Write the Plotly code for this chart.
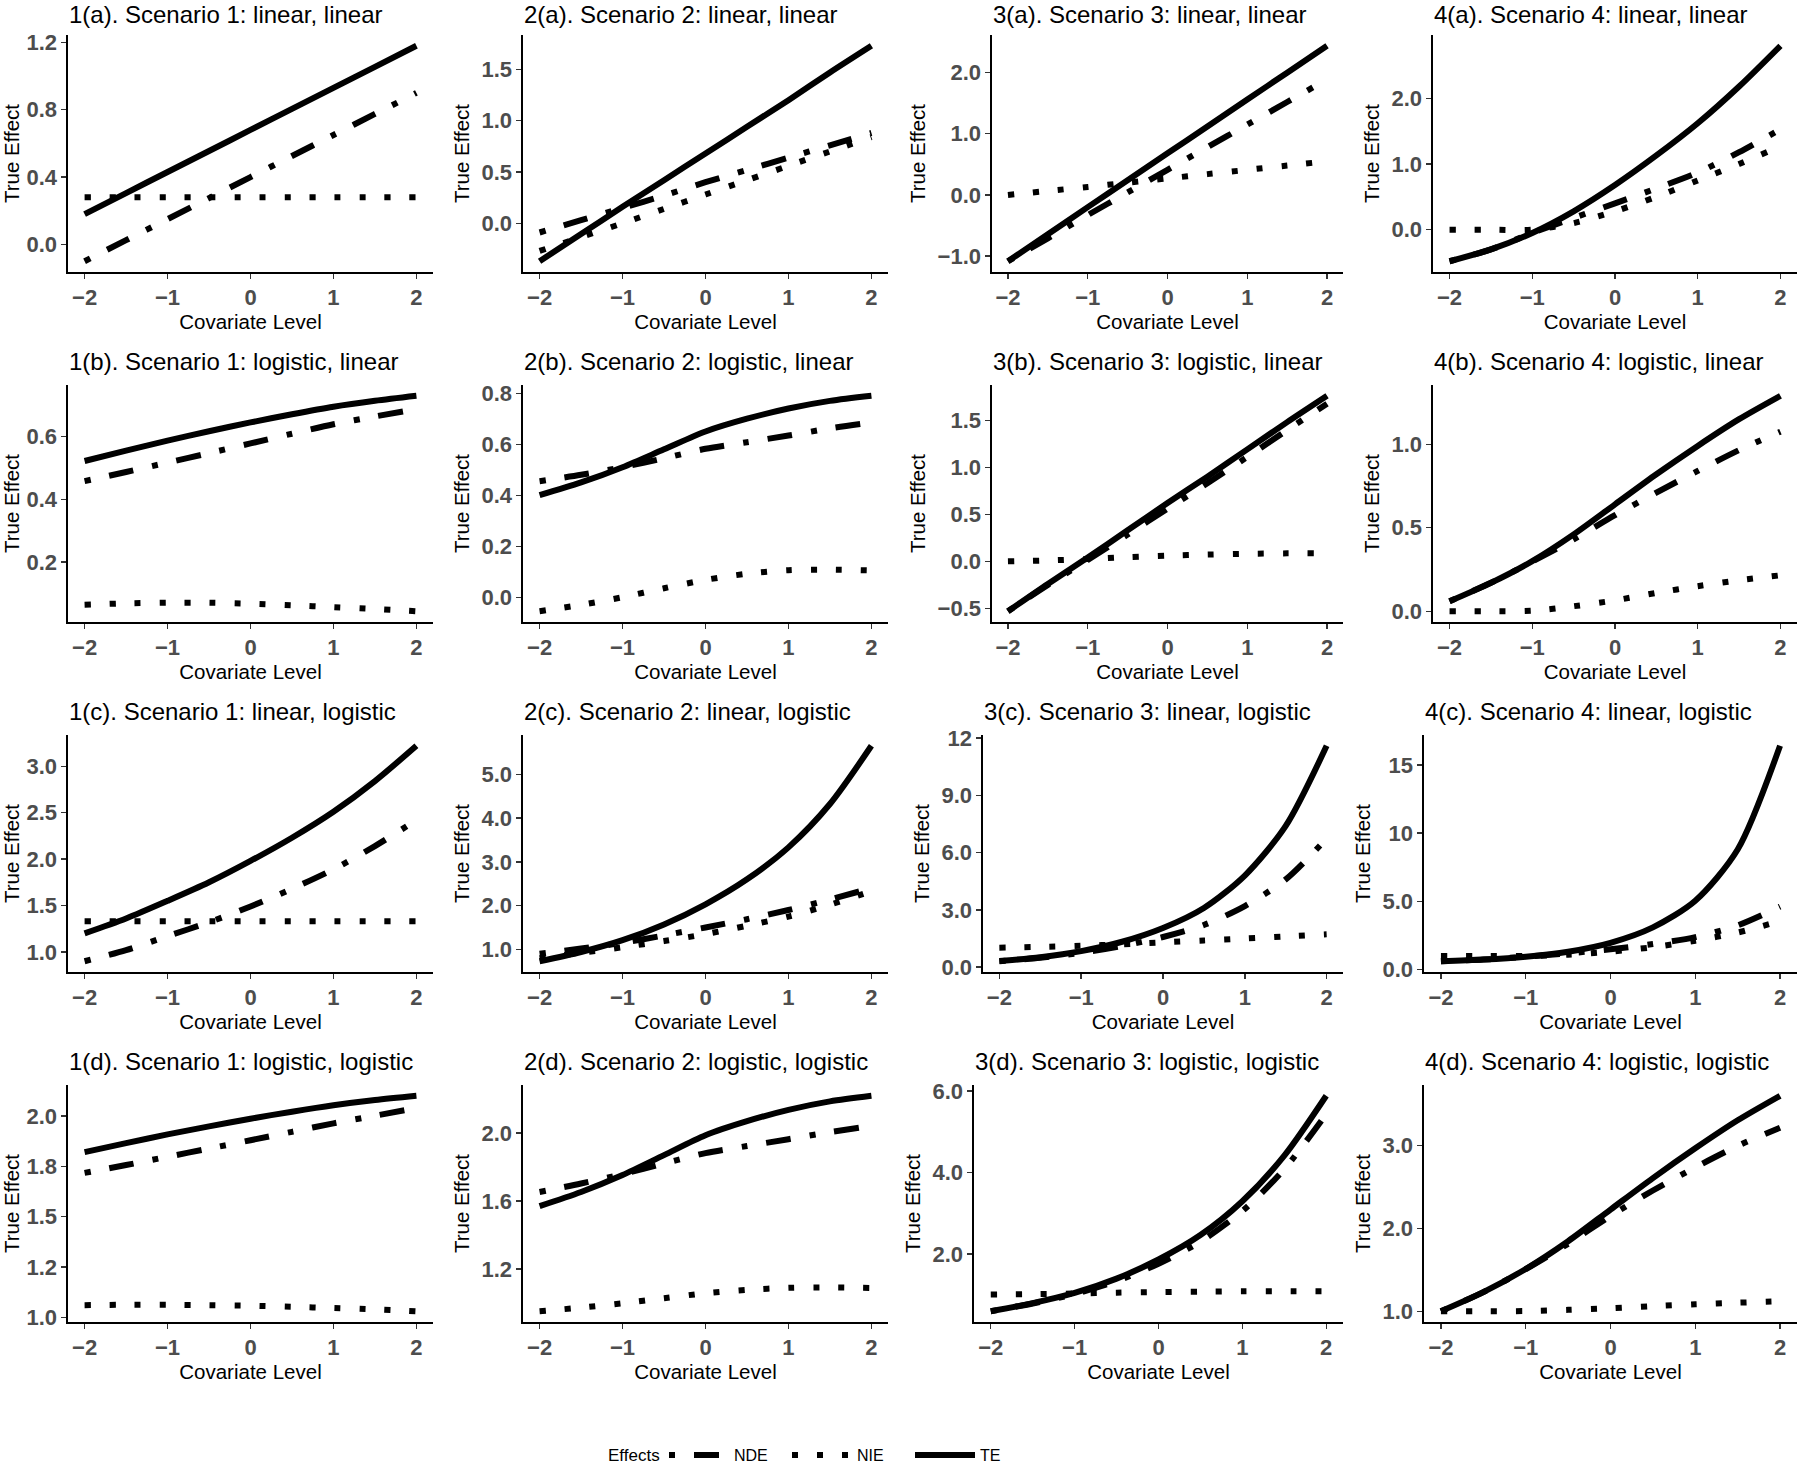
import plotly.graph_objects as go

# ---------------- data ----------------
COVARIATE = [-2.0, -1.5, -1.0, -0.5, 0.0, 0.5, 1.0, 1.5, 2.0]
X_TICKS = [-2, -1, 0, 1, 2]
X_TICK_TEXT = ["\u22122", "\u22121", "0", "1", "2"]

# Scenario 1
NDE_1a = [-0.10, 0.025, 0.15, 0.275, 0.40, 0.525, 0.65, 0.775, 0.90]
NIE_1a = [0.28, 0.28, 0.28, 0.28, 0.28, 0.28, 0.28, 0.28, 0.28]
TE_1a = [0.18, 0.305, 0.43, 0.555, 0.68, 0.805, 0.93, 1.055, 1.18]

NDE_1b = [0.458, 0.487, 0.517, 0.547, 0.578, 0.609, 0.639, 0.664, 0.687]
NIE_1b = [0.064, 0.068, 0.070, 0.070, 0.067, 0.062, 0.056, 0.050, 0.043]
TE_1b = [0.522, 0.555, 0.587, 0.617, 0.645, 0.671, 0.695, 0.714, 0.730]

NDE_1c = [0.90, 1.02, 1.17, 1.32, 1.49, 1.68, 1.89, 2.14, 2.42]
NIE_1c = [1.33, 1.33, 1.33, 1.33, 1.33, 1.33, 1.33, 1.33, 1.33]
TE_1c = [1.20, 1.36, 1.55, 1.75, 1.98, 2.23, 2.51, 2.84, 3.22]

NDE_1d = [1.717, 1.756, 1.797, 1.838, 1.879, 1.921, 1.963, 2.001, 2.039]
NIE_1d = [1.060, 1.062, 1.062, 1.060, 1.057, 1.052, 1.046, 1.039, 1.030]
TE_1d = [1.820, 1.865, 1.908, 1.948, 1.986, 2.021, 2.053, 2.079, 2.100]

# Scenario 2
NDE_2a = [-0.09, 0.03, 0.15, 0.27, 0.40, 0.52, 0.64, 0.76, 0.88]
NIE_2a = [-0.27, -0.135, 0.0, 0.14, 0.28, 0.42, 0.56, 0.70, 0.84]
TE_2a = [-0.37, -0.105, 0.16, 0.42, 0.68, 0.94, 1.20, 1.47, 1.73]

NDE_2b = [0.455, 0.480, 0.510, 0.545, 0.582, 0.608, 0.634, 0.662, 0.685]
NIE_2b = [-0.055, -0.030, 0.0, 0.035, 0.068, 0.092, 0.106, 0.108, 0.105]
TE_2b = [0.40, 0.45, 0.51, 0.58, 0.65, 0.70, 0.74, 0.77, 0.79]

NDE_2c = [0.90, 1.02, 1.15, 1.32, 1.50, 1.69, 1.90, 2.14, 2.40]
NIE_2c = [0.80, 0.92, 1.05, 1.19, 1.35, 1.54, 1.75, 2.02, 2.33]
TE_2c = [0.73, 0.94, 1.21, 1.57, 2.03, 2.60, 3.33, 4.32, 5.65]

NDE_2d = [1.653, 1.703, 1.758, 1.821, 1.882, 1.924, 1.964, 2.006, 2.042]
NIE_2d = [0.950, 0.971, 0.997, 1.027, 1.056, 1.076, 1.088, 1.090, 1.087]
TE_2d = [1.570, 1.653, 1.753, 1.870, 1.987, 2.070, 2.137, 2.187, 2.220]

# Scenario 3
NDE_3a = [-1.085, -0.71, -0.33, 0.04, 0.41, 0.78, 1.15, 1.52, 1.89]
NIE_3a = [0.0, 0.065, 0.13, 0.20, 0.27, 0.34, 0.41, 0.48, 0.55]
TE_3a = [-1.085, -0.645, -0.20, 0.24, 0.68, 1.12, 1.56, 2.00, 2.44]

NDE_3b = [-0.53, -0.25, 0.015, 0.285, 0.56, 0.83, 1.11, 1.395, 1.675]
NIE_3b = [0.0, 0.01, 0.025, 0.045, 0.06, 0.072, 0.08, 0.085, 0.085]
TE_3b = [-0.53, -0.24, 0.04, 0.33, 0.62, 0.90, 1.19, 1.48, 1.76]

NDE_3c = [0.31, 0.49, 0.75, 1.11, 1.58, 2.21, 3.20, 4.60, 6.74]
NIE_3c = [1.02, 1.06, 1.12, 1.20, 1.30, 1.40, 1.50, 1.61, 1.72]
TE_3c = [0.32, 0.52, 0.84, 1.33, 2.05, 3.10, 4.80, 7.40, 11.6]

NDE_3d = [0.59, 0.78, 1.015, 1.33, 1.755, 2.30, 3.05, 4.08, 5.43]
NIE_3d = [1.0, 1.01, 1.025, 1.045, 1.06, 1.07, 1.078, 1.082, 1.082]
TE_3d = [0.59, 0.79, 1.04, 1.39, 1.86, 2.46, 3.29, 4.41, 5.88]

# Scenario 4
NDE_4a = [-0.48, -0.30, -0.05, 0.18, 0.40, 0.63, 0.87, 1.18, 1.53]
NIE_4a = [0.0, 0.0, 0.0, 0.10, 0.28, 0.50, 0.75, 1.00, 1.27]
TE_4a = [-0.48, -0.30, -0.05, 0.28, 0.68, 1.13, 1.62, 2.18, 2.80]

NDE_4b = [0.06, 0.17, 0.297, 0.43, 0.575, 0.71, 0.84, 0.965, 1.075]
NIE_4b = [0.0, 0.0, 0.003, 0.03, 0.065, 0.11, 0.15, 0.185, 0.215]
TE_4b = [0.06, 0.17, 0.30, 0.46, 0.64, 0.82, 0.99, 1.15, 1.29]

NDE_4c = [0.62, 0.74, 0.95, 1.20, 1.49, 1.88, 2.39, 3.25, 4.62]
NIE_4c = [1.0, 1.0, 1.0, 1.10, 1.32, 1.65, 2.12, 2.72, 3.56]
TE_4c = [0.62, 0.74, 0.95, 1.32, 1.97, 3.10, 5.05, 8.80, 16.4]

NDE_4d = [1.0, 1.23, 1.507, 1.814, 2.15, 2.457, 2.736, 2.995, 3.214]
NIE_4d = [1.0, 1.0, 1.002, 1.017, 1.036, 1.061, 1.084, 1.103, 1.12]
TE_4d = [1.0, 1.23, 1.51, 1.845, 2.227, 2.607, 2.966, 3.304, 3.60]

TITLES = {
    "1a": "1(a). Scenario 1: linear, linear", "2a": "2(a). Scenario 2: linear, linear",
    "3a": "3(a). Scenario 3: linear, linear", "4a": "4(a). Scenario 4: linear, linear",
    "1b": "1(b). Scenario 1: logistic, linear", "2b": "2(b). Scenario 2: logistic, linear",
    "3b": "3(b). Scenario 3: logistic, linear", "4b": "4(b). Scenario 4: logistic, linear",
    "1c": "1(c). Scenario 1: linear, logistic", "2c": "2(c). Scenario 2: linear, logistic",
    "3c": "3(c). Scenario 3: linear, logistic", "4c": "4(c). Scenario 4: linear, logistic",
    "1d": "1(d). Scenario 1: logistic, logistic", "2d": "2(d). Scenario 2: logistic, logistic",
    "3d": "3(d). Scenario 3: logistic, logistic", "4d": "4(d). Scenario 4: logistic, logistic",
}

Y_TICKS = {
    "1a": [0.0, 0.4, 0.8, 1.2], "2a": [0.0, 0.5, 1.0, 1.5], "3a": [-1.0, 0.0, 1.0, 2.0], "4a": [0.0, 1.0, 2.0],
    "1b": [0.2, 0.4, 0.6], "2b": [0.0, 0.2, 0.4, 0.6, 0.8], "3b": [-0.5, 0.0, 0.5, 1.0, 1.5], "4b": [0.0, 0.5, 1.0],
    "1c": [1.0, 1.5, 2.0, 2.5, 3.0], "2c": [1.0, 2.0, 3.0, 4.0, 5.0], "3c": [0.0, 3.0, 6.0, 9.0, 12.0], "4c": [0.0, 5.0, 10.0, 15.0],
    "1d": [1.0, 1.25, 1.5, 1.75, 2.0], "2d": [1.2, 1.6, 2.0], "3d": [2.0, 4.0, 6.0], "4d": [1.0, 2.0, 3.0],
}
Y_TICK_TEXT = {
    "3c": ["0.0", "3.0", "6.0", "9.0", "12"],
    "4c": ["0.0", "5.0", "10", "15"],
    "1d": ["1.0", "1.2", "1.5", "1.8", "2.0"],
}

SERIES = {
    "1a": (NDE_1a, NIE_1a, TE_1a), "2a": (NDE_2a, NIE_2a, TE_2a), "3a": (NDE_3a, NIE_3a, TE_3a), "4a": (NDE_4a, NIE_4a, TE_4a),
    "1b": (NDE_1b, NIE_1b, TE_1b), "2b": (NDE_2b, NIE_2b, TE_2b), "3b": (NDE_3b, NIE_3b, TE_3b), "4b": (NDE_4b, NIE_4b, TE_4b),
    "1c": (NDE_1c, NIE_1c, TE_1c), "2c": (NDE_2c, NIE_2c, TE_2c), "3c": (NDE_3c, NIE_3c, TE_3c), "4c": (NDE_4c, NIE_4c, TE_4c),
    "1d": (NDE_1d, NIE_1d, TE_1d), "2d": (NDE_2d, NIE_2d, TE_2d), "3d": (NDE_3d, NIE_3d, TE_3d), "4d": (NDE_4d, NIE_4d, TE_4d),
}
EFFECT_NAMES = ["NDE", "NIE", "TE"]

# ---------------- layout (pixels) ----------------
W, H = 1800, 1468
ROW_KEYS = [["1a", "2a", "3a", "4a"], ["1b", "2b", "3b", "4b"],
            ["1c", "2c", "3c", "4c"], ["1d", "2d", "3d", "4d"]]
ROW_TOP = [35, 385, 735, 1085]
ROW_BOT = [272, 622, 972, 1322]
LEFTS = [[68, 523, 992, 1433], [68, 523, 992, 1433],
         [68, 523, 983, 1424], [68, 523, 974, 1424]]
RIGHTS = [433, 888, 1343, 1797]
TITLE_GAP = 38
LEGEND_MID = 1455

LW = 6
DASHES = {"NDE": "6px,19px,25px,19px", "NIE": "6px,19px", "TE": "solid"}
FONT = "Liberation Sans, Arial, sans-serif"


def fmt(v):
    s = f"{abs(v):.1f}"
    return ("\u2212" + s) if v < 0 else s


fig = go.Figure()
annotations = []
idx = 0
for r, keys in enumerate(ROW_KEYS):
    for c, key in enumerate(keys):
        idx += 1
        xa = "x" if idx == 1 else f"x{idx}"
        ya = "y" if idx == 1 else f"y{idx}"
        series = SERIES[key]
        for name, vals in zip(EFFECT_NAMES, series):
            fig.add_trace(go.Scatter(
                x=COVARIATE, y=vals, mode="lines", name=name,
                line=dict(color="black", width=LW, dash=DASHES[name], shape="spline", smoothing=0.8),
                xaxis=xa, yaxis=ya, showlegend=(idx == 1), legendgroup=name,
                hoverinfo="skip",
            ))
        allv = [v for s in series for v in s]
        lo, hi = min(allv), max(allv)
        pad = 0.05 * (hi - lo)
        left, right = LEFTS[r][c], RIGHTS[c]
        top, bot = ROW_TOP[r], ROW_BOT[r]
        ticks = Y_TICKS[key]
        ttext = Y_TICK_TEXT.get(key, [fmt(t) for t in ticks])
        axis_common = dict(
            showline=True, linecolor="black", linewidth=1.6, mirror=False,
            ticks="outside", ticklen=5, tickwidth=1.4, tickcolor="#333333",
            showgrid=False, zeroline=False, automargin=False,
            tickfont=dict(family=FONT, size=22, color="#4D4D4D", weight="bold"),
        )
        fig.layout[("xaxis" if idx == 1 else f"xaxis{idx}")] = dict(
            axis_common, domain=[left / W, right / W], anchor=ya,
            range=[-2.2, 2.2], tickvals=X_TICKS, ticktext=X_TICK_TEXT,
            title=dict(text="Covariate Level", font=dict(family=FONT, size=20.5, color="black"), standoff=3),
        )
        fig.layout[("yaxis" if idx == 1 else f"yaxis{idx}")] = dict(
            axis_common, domain=[1 - bot / H, 1 - top / H], anchor=xa,
            range=[lo - pad, hi + pad], tickvals=ticks, ticktext=ttext,
            title=dict(text="True Effect", font=dict(family=FONT, size=20.5, color="black"), standoff=6),
        )
        annotations.append(dict(
            text=TITLES[key], xref="paper", yref="paper",
            x=left / W, y=min(1.0, 1 - (top - TITLE_GAP) / H), xanchor="left", yanchor="top",
            showarrow=False, borderpad=0, font=dict(family=FONT, size=24, color="black"),
        ))

# legend title as a text label placed left of the entries
annotations.append(dict(
    text="Effects", xref="paper", yref="paper",
    x=606 / W, y=1 - LEGEND_MID / H, xanchor="left", yanchor="middle",
    showarrow=False, font=dict(family=FONT, size=17, color="black"),
))

fig.update_layout(
    width=W, height=H,
    margin=dict(l=0, r=0, t=0, b=0, autoexpand=False),
    paper_bgcolor="white", plot_bgcolor="white",
    annotations=annotations,
    showlegend=True,
    hovermode=False,
    legend=dict(
        orientation="h", x=664 / W, xanchor="left", y=1 - LEGEND_MID / H, yanchor="middle",
        font=dict(family=FONT, size=16, color="black"),
        entrywidth=48, itemwidth=60,
    ),
)

fig.write_html(
    "out.html",
    config={"displayModeBar": False, "staticPlot": True},
    post_script="document.body.style.margin='0';document.body.style.padding='0';document.body.style.overflow='hidden';",
)
